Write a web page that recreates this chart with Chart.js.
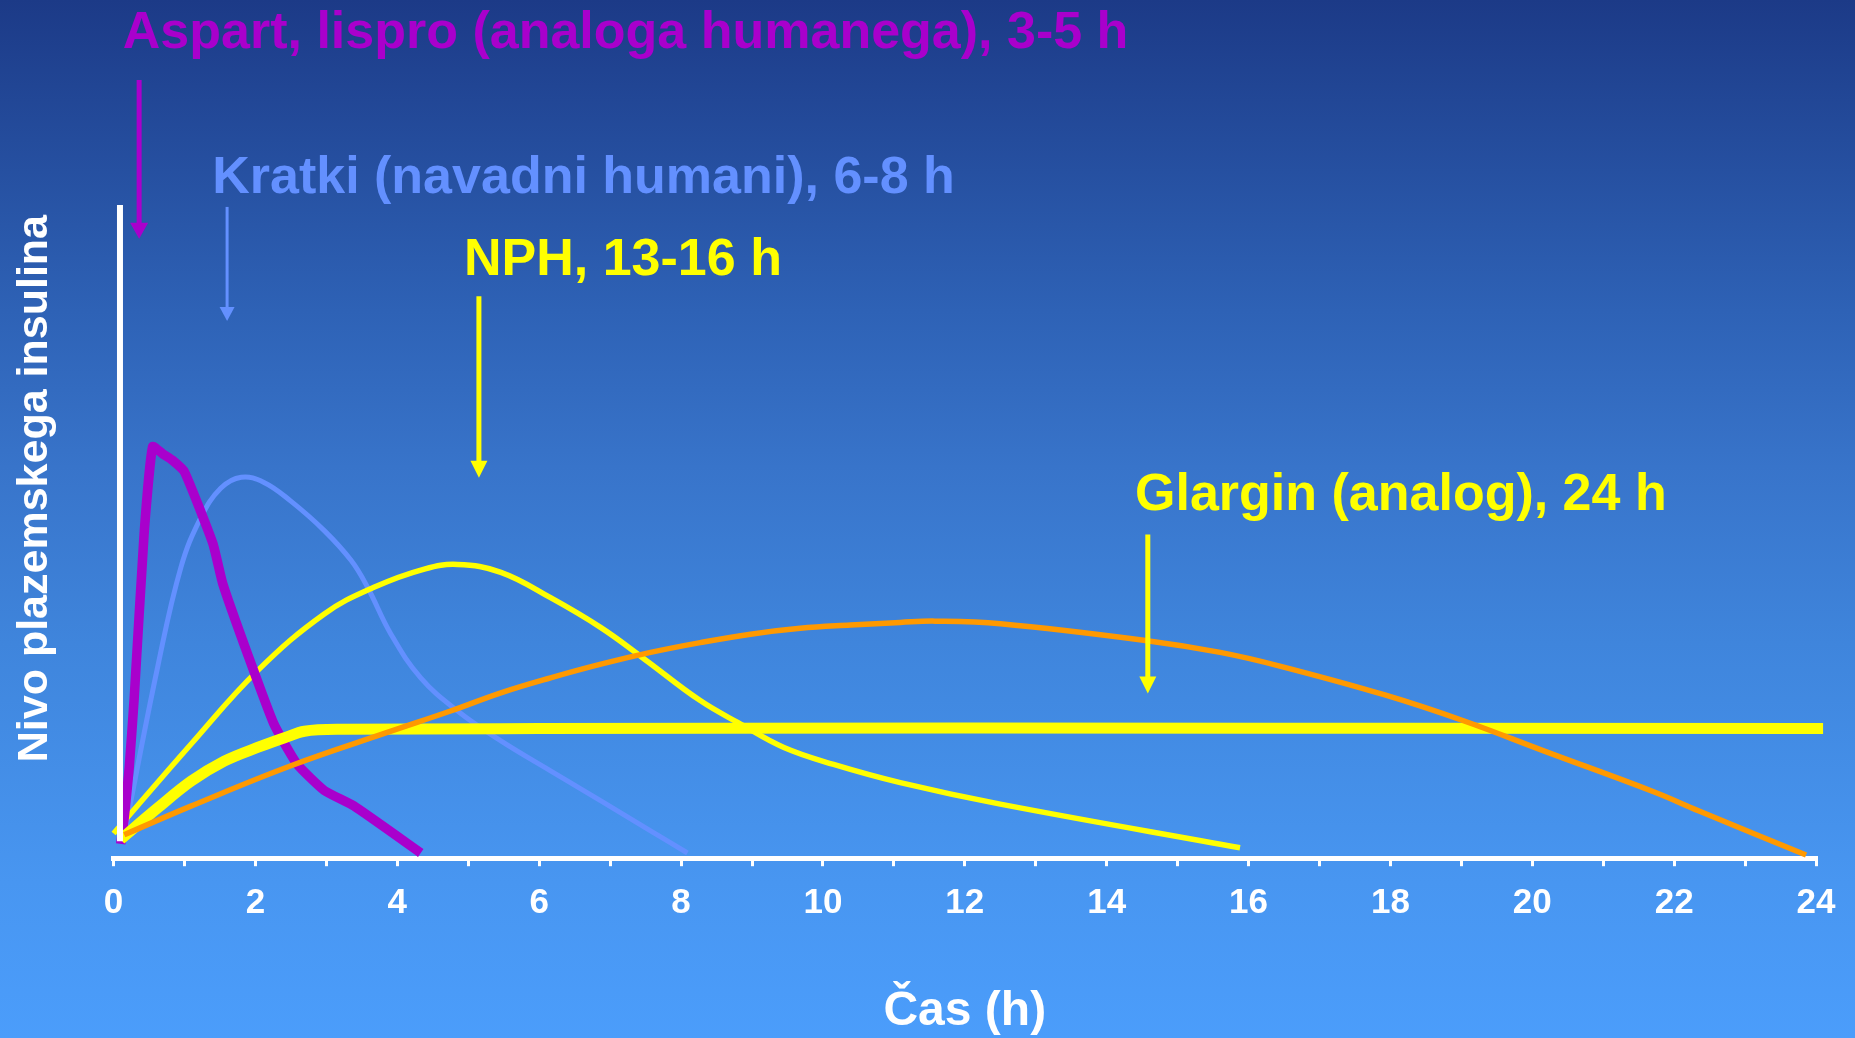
<!DOCTYPE html>
<html>
<head>
<meta charset="utf-8">
<script src="https://cdn.jsdelivr.net/npm/chart.js@4.4.1/dist/chart.umd.min.js"></script>
<style>
  html, body { margin: 0; padding: 0; overflow: hidden; background: #2f63b7; }
  canvas { display: block; }
</style>
</head>
<body>
<canvas id="insulin" width="1855" height="1038"></canvas>
<script>
// Plasma insulin level (relative units) against hours after injection
const aspartHours  = [0.1, 0.15, 0.22, 0.29, 0.43, 0.55, 0.69, 0.83, 1.0, 1.40, 1.54, 1.89, 2.26, 2.59, 2.97, 3.39, 4.33];
const aspartLevels = [2.2, 6.2, 13.9, 24.5, 49.8, 63.2, 62.1, 61.1, 59.3, 48.3, 42.1, 31.3, 20.6, 14.4, 10.4, 8.0, 0.8];

const kratkiHours  = [0.15, 0.62, 0.95, 1.23, 1.51, 1.80, 2.12, 2.49, 2.97, 3.35, 3.58, 3.91, 4.33, 4.85, 5.46, 6.16, 6.87, 7.57, 8.09];
const kratkiLevels = [3.6, 29.3, 44.7, 52.3, 56.8, 58.5, 57.7, 54.9, 50.3, 45.7, 41.6, 34.4, 27.7, 22.6, 18.0, 13.4, 8.8, 4.2, 0.8];

const nphHours  = [0.0, 1.09, 2.03, 2.97, 3.67, 4.38, 4.85, 5.46, 6.16, 6.87, 7.48, 8.27, 8.84, 9.45, 10.15, 11.09, 12.5, 15.88];
const nphLevels = [3.8, 17.5, 28.8, 37.5, 41.6, 44.4, 45.1, 43.9, 40.0, 35.4, 30.6, 24.2, 20.6, 17.0, 14.4, 11.6, 8.3, 1.6];

const glarginHours  = [0.1, 0.62, 1.09, 1.56, 2.03, 2.41, 2.69, 3.2, 6, 12, 18, 24.1];
const glarginLevels = [2.9, 7.7, 11.8, 14.9, 17.0, 18.5, 19.5, 19.8, 19.9, 20.0, 19.95, 19.9];

const longHours  = [0.15, 1.09, 2.5, 3.91, 4.75, 5.46, 6.16, 6.87, 7.57, 8.27, 8.98, 9.68, 10.39, 11.09, 11.58, 12.5, 14.57, 15.6, 16.44, 17.91, 19.03, 20.18, 21.71, 22.36, 23.86];
const longLevels = [3.6, 8.0, 14.2, 19.5, 22.6, 25.4, 27.7, 29.8, 31.6, 33.1, 34.4, 35.3, 35.8, 36.2, 36.4, 36.0, 33.4, 31.6, 29.5, 25.1, 21.1, 16.4, 10.2, 7.2, 0.5];

const tickLabels = ['0', '', '2', '', '4', '', '6', '', '8', '', '10', '', '12', '', '14', '', '16', '', '18', '', '20', '', '22', '', '24'];
const xTitle = 'Čas (h)';
const yTitle = 'Nivo plazemskega insulina';

const labelTexts = [
  'Aspart, lispro (analoga humanega), 3-5 h',
  'Kratki (navadni humani), 6-8 h',
  'NPH, 13-16 h',
  'Glargin (analog), 24 h'
];

const FONT = "'Liberation Sans', Arial, Helvetica, sans-serif";
const PURPLE = '#a900cc';
const BLUE = '#6390ff';
const YELLOW = '#ffff00';
const ORANGE = '#ff9900';

// Callout placement (hours / level units) for each label and its arrow
const callouts = [
  { text: labelTexts[0], color: PURPLE, tx: 0.13, ty: 124.4, ax: 0.36, a0: 119.5, a1: 95.1, w: 5, hw: 18, hl: 16 },
  { text: labelTexts[1], color: BLUE,   tx: 1.39, ty: 102.1, ax: 1.60, a0: 100.0, a1: 82.5, w: 3, hw: 15, hl: 14 },
  { text: labelTexts[2], color: YELLOW, tx: 4.94, ty: 89.5,  ax: 5.15, a0: 86.3,  a1: 58.4, w: 5, hw: 17, hl: 17 },
  { text: labelTexts[3], color: YELLOW, tx: 14.40, ty: 53.4, ax: 14.58, a0: 49.7, a1: 25.3, w: 5, hw: 17, hl: 17 }
];

// White level axis drawn slightly inside the time origin
const levelAxis = { at: 0.09, from: 2.6, to: 100.3, width: 6 };

const pts = (xs, ys) => xs.map((x, i) => ({ x, y: ys[i] }));

const backdrop = {
  id: 'backdrop',
  beforeDraw(chart) {
    const { ctx, width, height } = chart;
    const g = ctx.createLinearGradient(0, 0, 0, height);
    g.addColorStop(0, '#1c3a87');
    g.addColorStop(0.3, '#2e62b6');
    g.addColorStop(0.45, '#3874ca');
    g.addColorStop(0.62, '#3f85dc');
    g.addColorStop(0.85, '#4896f1');
    g.addColorStop(1, '#4b9dfb');
    ctx.save();
    ctx.fillStyle = g;
    ctx.fillRect(0, 0, width, height);
    ctx.restore();
  }
};

const callout = {
  id: 'callout',
  afterDatasetsDraw(chart) {
    const { ctx } = chart;
    const xs = chart.scales.x, ys = chart.scales.y;
    ctx.save();
    // level axis
    ctx.strokeStyle = '#ffffff';
    ctx.lineWidth = levelAxis.width;
    ctx.beginPath();
    ctx.moveTo(xs.getPixelForValue(levelAxis.at), ys.getPixelForValue(levelAxis.from));
    ctx.lineTo(xs.getPixelForValue(levelAxis.at), ys.getPixelForValue(levelAxis.to));
    ctx.stroke();
    // labels with arrows
    ctx.font = 'bold 52px ' + FONT;
    ctx.textAlign = 'left';
    ctx.textBaseline = 'alphabetic';
    callouts.forEach(c => {
      ctx.fillStyle = c.color;
      ctx.fillText(c.text, xs.getPixelForValue(c.tx), ys.getPixelForValue(c.ty));
      const x = xs.getPixelForValue(c.ax);
      const y0 = ys.getPixelForValue(c.a0);
      const y1 = ys.getPixelForValue(c.a1);
      ctx.strokeStyle = c.color;
      ctx.lineWidth = c.w;
      ctx.beginPath();
      ctx.moveTo(x, y0);
      ctx.lineTo(x, y1 - c.hl + 1);
      ctx.stroke();
      ctx.beginPath();
      ctx.moveTo(x - c.hw / 2, y1 - c.hl);
      ctx.lineTo(x + c.hw / 2, y1 - c.hl);
      ctx.lineTo(x, y1);
      ctx.closePath();
      ctx.fill();
    });
    ctx.restore();
  }
};

new Chart(document.getElementById('insulin'), {
  type: 'line',
  data: {
    datasets: [
      { data: pts(longHours, longLevels), borderColor: ORANGE, borderWidth: 5.5, tension: 0.4, order: 1 },
      { data: pts(glarginHours, glarginLevels), borderColor: YELLOW, borderWidth: 11, cubicInterpolationMode: 'monotone', order: 2 },
      { data: pts(aspartHours, aspartLevels), borderColor: PURPLE, borderWidth: 9.5, tension: 0.15, borderJoinStyle: 'round', order: 3 },
      { data: pts(nphHours, nphLevels), borderColor: YELLOW, borderWidth: 5.5, tension: 0.4, order: 4 },
      { data: pts(kratkiHours, kratkiLevels), borderColor: BLUE, borderWidth: 5, tension: 0.4, order: 5 }
    ]
  },
  options: {
    responsive: false,
    animation: false,
    devicePixelRatio: 1,
    layout: { padding: { left: 9, right: 39, top: 119, bottom: 0 } },
    plugins: { legend: { display: false }, tooltip: { enabled: false } },
    elements: { point: { radius: 0 }, line: { fill: false } },
    datasets: { line: { clip: false } },
    scales: {
      x: {
        type: 'linear', min: 0, max: 24,
        ticks: {
          stepSize: 1, autoSkip: false, maxRotation: 0, color: '#ffffff', padding: 16,
          font: { family: FONT, size: 35, weight: 'bold' },
          callback: (v) => tickLabels[v] ?? ''
        },
        grid: { drawOnChartArea: false, drawTicks: true, tickLength: 8, tickWidth: 3, tickColor: '#ffffff', color: '#ffffff', lineWidth: 3 },
        border: { display: true, color: '#ffffff', width: 5 },
        title: { display: true, text: xTitle, color: '#ffffff', font: { family: FONT, size: 48, weight: 'bold', lineHeight: 1.1 }, padding: { top: 45, bottom: 0 } }
      },
      y: {
        type: 'linear', min: 0, max: 113.5,
        ticks: { display: false },
        grid: { display: false },
        border: { display: false },
        title: { display: true, text: yTitle, color: '#ffffff', font: { family: FONT, size: 43, weight: 'bold' }, padding: { top: 0, bottom: 45 } }
      }
    }
  },
  plugins: [backdrop, callout]
});
</script>
</body>
</html>
